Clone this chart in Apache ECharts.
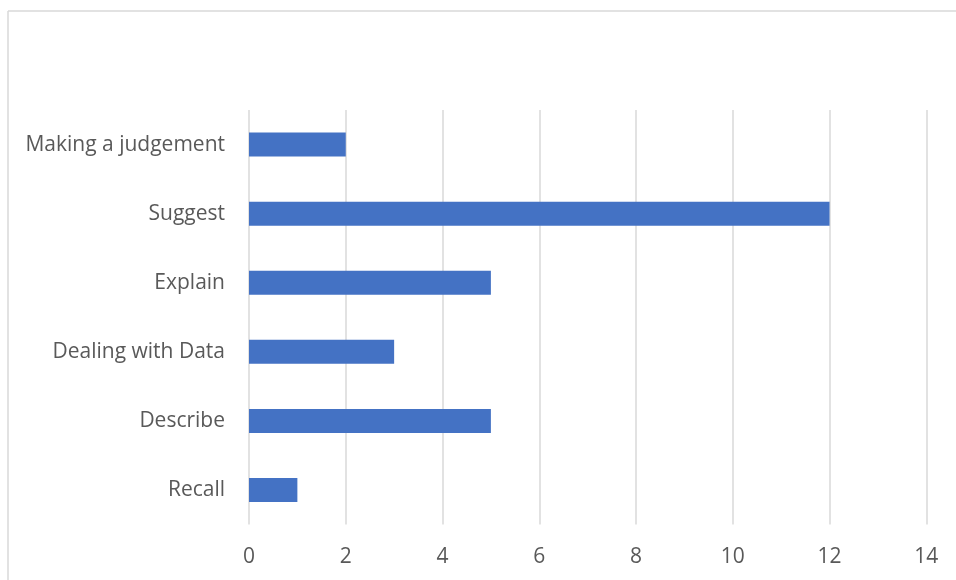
<!DOCTYPE html>
<html>
<head>
<meta charset="utf-8">
<script src="https://cdn.jsdelivr.net/npm/echarts@6/dist/echarts.min.js"></script>
<style>
html,body{margin:0;padding:0;background:#fff;}
#chart{width:956px;height:580px;}
</style>
</head>
<body>
<div id="chart"></div>
<script>
const categories = ["Recall", "Describe", "Dealing with Data", "Explain", "Suggest", "Making a judgement"];
const values = [1, 5, 3, 5, 12, 2];
const xTicks = { min: 0, max: 14, interval: 2 };

const chart = echarts.init(document.getElementById('chart'));
chart.setOption({
  animation: false,
  backgroundColor: '#ffffff',
  graphic: [
    { type: 'line', shape: { x1: 8, y1: 11, x2: 956, y2: 11 }, style: { stroke: '#d9d9d9', lineWidth: 1.5 } },
    { type: 'line', shape: { x1: 8, y1: 11, x2: 8, y2: 580 }, style: { stroke: '#d9d9d9', lineWidth: 1.5 } }
  ],
  grid: { left: 249, right: 29.7, top: 110, bottom: 55.4, containLabel: false },
  xAxis: {
    type: 'value',
    min: xTicks.min, max: xTicks.max, interval: xTicks.interval,
    axisLine: { show: false },
    axisTick: { show: false },
    axisLabel: { color: '#595959', fontSize: 21, fontFamily: 'Open Sans, sans-serif', margin: 22 },
    splitLine: { lineStyle: { color: '#d9d9d9', width: 1.5 } }
  },
  yAxis: {
    type: 'category',
    data: categories,
    axisLine: { show: false },
    axisTick: { show: false },
    axisLabel: { color: '#595959', fontSize: 21, fontFamily: 'Open Sans, sans-serif', margin: 24, padding: [2, 0, 0, 0] }
  },
  series: [{
    type: 'bar',
    data: values,
    barWidth: 24,
    itemStyle: { color: '#4472c4' }
  }]
});
</script>
</body>
</html>
